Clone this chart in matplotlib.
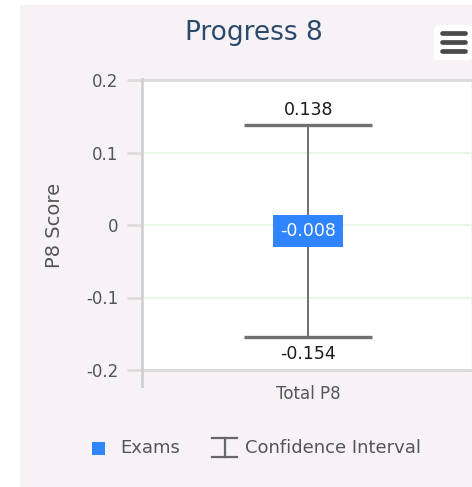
import matplotlib
matplotlib.use("Agg")
import matplotlib.pyplot as plt
from matplotlib.patches import Rectangle, FancyBboxPatch
from matplotlib.lines import Line2D
from matplotlib.transforms import ScaledTranslation

# data
categories = ["Total P8"]
scores = [-0.008]
ci_low = [-0.154]
ci_high = [0.138]
yticks = [-0.2, -0.1, 0, 0.1, 0.2]
ytick_labels = ["-0.2", "-0.1", "0", "0.1", "0.2"]

W, H = 472, 487
PANEL = "#f6f2f6"
BLUE = "#2f84ff"
GRAY_TXT = "#555555"

fig = plt.figure(figsize=(W / 100, H / 100), dpi=100, facecolor="white")

def fx(px):
    return px / W

def fy(py):
    return 1 - py / H

# panel background
fig.patches.append(Rectangle((fx(20), 0), 1 - fx(20), fy(5), transform=fig.transFigure,
                             facecolor=PANEL, edgecolor="none", zorder=-5))

ax = fig.add_axes([fx(142), fy(370), fx(471) - fx(142), fy(80) - fy(370)])
ax.set_zorder(2)
ax.set_facecolor("white")
ax.set_xlim(-0.505, 0.495)
ax.set_ylim(-0.2, 0.2)
for s in ax.spines.values():
    s.set_visible(False)

# grid lines
for t in yticks:
    if abs(t) == 0.2:
        ax.axhline(t, color="#dcdcdc", lw=2.2, zorder=1, clip_on=False)
    else:
        ax.axhline(t, color="#ebf5e9", lw=1.5, zorder=1)

ax.set_yticks(yticks)
ax.set_yticklabels(ytick_labels)
ax.tick_params(axis="y", length=11, width=2, color="#dcdcdc", labelsize=12,
               labelcolor=GRAY_TXT, pad=6)
ax.set_xticks([])

# left axis line extending below plot
ax.add_line(Line2D([0, 0], [-0.055, 1.005], transform=ax.transAxes, color="#d0d0d0",
                   lw=2, clip_on=False, zorder=2))

xs = list(range(len(categories)))
for i, cat in enumerate(categories):
    ax.text(i, -0.2, cat, ha="center", va="top", fontsize=12, color=GRAY_TXT,
            transform=ax.transData + ScaledTranslation(0, -15 / 100, fig.dpi_scale_trans))

yerr = [[s - lo for s, lo in zip(scores, ci_low)], [hi - s for s, hi in zip(scores, ci_high)]]
ax.errorbar(xs, scores, yerr=yerr, fmt="none", ecolor="#707070", elinewidth=1.4,
            capsize=46, capthick=2.4, zorder=3)

for i in xs:
    ax.text(i, ci_high[i], f"{ci_high[i]:.3f}", ha="center", va="center", fontsize=12.5,
            color="#1a1a1a",
            transform=ax.transData + ScaledTranslation(0, 15 / 100, fig.dpi_scale_trans))
    ax.text(i, ci_low[i], f"{ci_low[i]:.3f}", ha="center", va="center", fontsize=12.5,
            color="#1a1a1a",
            transform=ax.transData + ScaledTranslation(0, -17 / 100, fig.dpi_scale_trans))
    ax.text(i, scores[i], f"{scores[i]:.3f}", ha="center", va="center", fontsize=12.5,
            color="white", zorder=5,
            bbox=dict(boxstyle="square,pad=0.4", facecolor=BLUE, edgecolor="none"))

ax.set_ylabel("P8 Score", fontsize=14, color=GRAY_TXT, labelpad=16)

# title
fig.text(fx(254), fy(33), "Progress 8", ha="center", va="center", fontsize=19,
         color="#2d4a6b")

# menu icon
fig.patches.append(FancyBboxPatch((fx(434), fy(60)), fx(38), fy(25) - fy(60),
                                  boxstyle="round,pad=0,rounding_size=0.008",
                                  transform=fig.transFigure, facecolor="white",
                                  edgecolor="none", zorder=3))
for yy in (33, 42, 51):
    fig.add_artist(Line2D([fx(442), fx(465)], [fy(yy), fy(yy)], color="#4a4a4a", lw=3.4,
                          solid_capstyle="round", zorder=4))

# legend
fig.patches.append(Rectangle((fx(92), fy(455)), fx(13), fy(442) - fy(455),
                             transform=fig.transFigure, facecolor=BLUE, edgecolor="none"))
fig.text(fx(120), fy(448), "Exams", ha="left", va="center", fontsize=13, color=GRAY_TXT)
for seg in ([(212, 438), (237, 438)], [(212, 457), (237, 457)], [(224.5, 438), (224.5, 457)]):
    fig.add_artist(Line2D([fx(seg[0][0]), fx(seg[1][0])], [fy(seg[0][1]), fy(seg[1][1])],
                          color="#666666", lw=1.6))
fig.text(fx(245), fy(448), "Confidence Interval", ha="left", va="center", fontsize=13,
         color=GRAY_TXT)

fig.savefig("out.png", dpi=100, facecolor=fig.get_facecolor())
